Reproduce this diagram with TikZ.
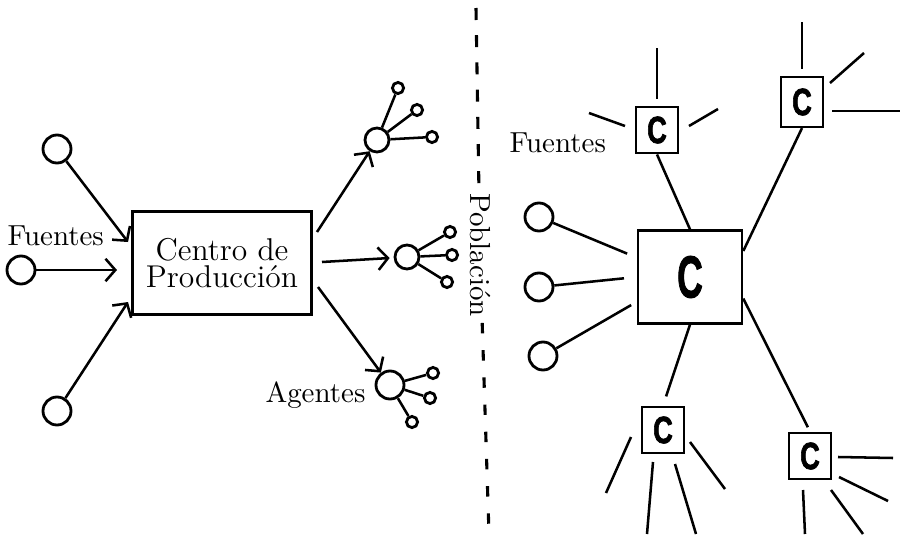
\documentclass[tikz,border=0pt]{standalone}
\usepackage{graphicx}
\usepackage{fontspec}
\usepackage{tikz}
\usetikzlibrary{arrows.meta}
\newfontfamily\cfont{Liberation Sans Bold}[FakeBold=2]
\pgfdeclarelayer{bg}
\pgfsetlayers{bg,main}
\tikzset{
  src/.style={draw, circle, line width=1pt, minimum size=3.5mm, inner sep=0pt},
  agt/.style={draw, circle, line width=1pt, minimum size=3mm, inner sep=0pt},
  sub/.style={draw, circle, line width=1pt, minimum size=1.4mm, inner sep=0pt},
  lbl/.style={inner sep=0pt},
  cbox/.style={draw, line width=0.9pt, inner sep=0pt, minimum width=5.2mm, minimum height=5.8mm,
    font=\cfont\fontsize{13.5}{13.5}\selectfont},
  arr/.style={line width=0.9pt, -{Straight Barb[length=3.5pt,width=8pt]}},
  ray/.style={line width=0.9pt},
}
\begin{document}
\begin{tikzpicture}[x=0.0125cm, y=-0.0125cm, font=\fontsize{10.3}{9.5}\selectfont]
        \useasboundingbox (0,0) rectangle (905,534);
        % production side
        \node (p) [draw, line width=0.9pt, minimum width=2.24cm, minimum height=1.29cm, align=center,
                font=\fontsize{11.2}{9.8}\selectfont] at (222,263) {Centro de\\Producci\'on};
        \node (s0) [src] at (57,149) {};
        \node (s1) [src] at (21,270) {};
        \node (s2) [src] at (57,411) {};
        \coordinate (e0) at (128,242);
        \coordinate (e1) at (117,270);
        \coordinate (e2) at (128,302);
        \node (f0) [lbl, anchor=base west] at (7,245) {Fuentes};
        \coordinate (b0) at (317,232);
        \coordinate (b1) at (322,262);
        \coordinate (b2) at (318,287);
        \node (a0) [agt] at (377,140) {};
        \node (a0a) [sub] at (398,88) {};
        \node (a0b) [sub] at (417,110) {};
        \node (a0c) [sub] at (432,137) {};
        \node (a1) [agt] at (407,257) {};
        \node (a1a) [sub] at (450,232) {};
        \node (a1b) [sub] at (452,255) {};
        \node (a1c) [sub] at (447,282) {};
        \node (a2) [agt, minimum size=3.5mm] at (390,385) {};
        \node (a2a) [sub] at (433,373) {};
        \node (a2b) [sub] at (430,398) {};
        \node (a2c) [sub] at (412,422) {};
        \node (ag) [lbl, anchor=base east] at (366,402) {Agentes};
        % divider
        \coordinate (d0) at (476,8);
        \coordinate (d1) at (489,534);
        \node (pob) [rotate=-90, inner sep=2pt] at (480,255) {Poblaci\'on};
        % population side
        \node (c) [draw, line width=0.9pt, minimum width=1.3cm, minimum height=1.16cm,
                font=\cfont\fontsize{21}{21}\selectfont] at (690,277) {\scalebox{0.6}[1]{C}};
        \node (t0) [cbox] at (657,130) {\scalebox{0.72}[1]{C}};
        \node (t1) [cbox, minimum height=6.2mm] at (802,102) {\scalebox{0.72}[1]{C}};
        \node (t2) [cbox] at (663,430) {\scalebox{0.72}[1]{C}};
        \node (t3) [cbox] at (810,456) {\scalebox{0.72}[1]{C}};
        \node (r0) [src] at (539,217) {};
        \node (r1) [src] at (539,287) {};
        \node (r2) [src] at (543,356) {};
        \node (f1) [lbl, anchor=base west] at (509,152) {Fuentes};
        \begin{pgfonlayer}{bg}
                \draw (s0) edge [arr] (e0);
                \draw (s1) edge [arr] (e1);
                \draw (s2) edge [arr] (e2);
                \draw (b0) edge [arr] (a0);
                \draw (b1) edge [arr, shorten >=0.5mm] (a1);
                \draw (b2) edge [arr] (a2);
                \draw (a0) edge [ray] (a0a);
                \draw (a0) edge [ray] (a0b);
                \draw (a0) edge [ray] (a0c);
                \draw (a1) edge [ray] (a1a);
                \draw (a1) edge [ray] (a1b);
                \draw (a1) edge [ray] (a1c);
                \draw (a2) edge [ray] (a2a);
                \draw (a2) edge [ray] (a2b);
                \draw (a2) edge [ray] (a2c);
                \draw (d0) edge [line width=1.1pt, dash pattern=on 1.5mm off 1.9mm] (pob);
                \draw (pob) edge [line width=1.1pt, dash pattern=on 1.3mm off 2.1mm] (d1);
                \draw (r0) edge [ray, shorten >=1.3mm] (c.160);
                \draw (r1) edge [ray, shorten >=1.6mm] (c.west);
                \draw (r2) edge [ray, shorten >=0.8mm] (c.205);
                \draw (c.north) edge [ray] (t0.south);
                \draw (c.26) edge [ray] (t1.south);
                \draw (c.south) edge [ray, shorten >=1.2mm] (t2.north);
                \draw (c.-22) edge [ray, shorten >=0.6mm] (t3.north);
                % loose strokes round the small centres
                \draw [ray] (657,48) -- (657,99);
                \draw [ray] (589,113) -- (625,126);
                \draw [ray] (689,126) -- (718,109);
                \draw [ray] (802,22) -- (802,69);
                \draw [ray] (830,83) -- (864,53);
                \draw [ray] (832,111) -- (900,111);
                \draw [ray] (631,437) -- (606,493);
                \draw [ray] (653,462) -- (647,534);
                \draw [ray] (675,464) -- (696,534);
                \draw [ray] (690,442) -- (725,489);
                \draw [ray] (838,457) -- (893,458);
                \draw [ray] (839,477) -- (888,501);
                \draw [ray] (831,490) -- (863,534);
                \draw [ray] (803,490) -- (805,534);
        \end{pgfonlayer}
\end{tikzpicture}
\end{document}
